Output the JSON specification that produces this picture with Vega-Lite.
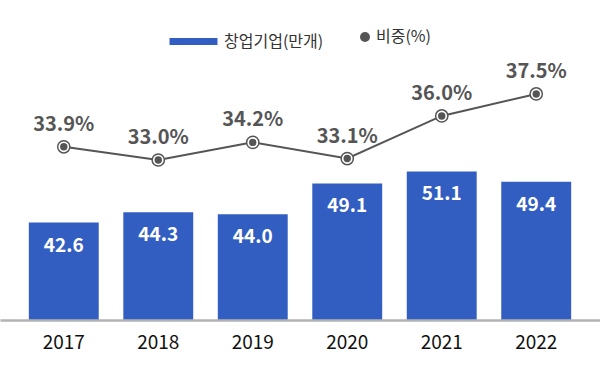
{
  "$schema": "https://vega.github.io/schema/vega-lite/v6.json",
  "width": 600,
  "height": 320,
  "autosize": "none",
  "padding": {"top": 0, "left": 0, "right": 0, "bottom": 60},
  "background": "white",
  "config": {
    "view": {"stroke": null},
    "font": "Noto Sans CJK KR"
  },
  "data": {
    "values": [
      {"year": "2017", "count": 42.6, "pct": 33.9, "pctLabel": "33.9%", "s1": "창업기업(만개)", "s2": "비중(%)"},
      {"year": "2018", "count": 44.3, "pct": 33.0, "pctLabel": "33.0%", "s1": "창업기업(만개)", "s2": "비중(%)"},
      {"year": "2019", "count": 44.0, "pct": 34.2, "pctLabel": "34.2%", "s1": "창업기업(만개)", "s2": "비중(%)"},
      {"year": "2020", "count": 49.1, "pct": 33.1, "pctLabel": "33.1%", "s1": "창업기업(만개)", "s2": "비중(%)"},
      {"year": "2021", "count": 51.1, "pct": 36.0, "pctLabel": "36.0%", "s1": "창업기업(만개)", "s2": "비중(%)"},
      {"year": "2022", "count": 49.4, "pct": 37.5, "pctLabel": "37.5%", "s1": "창업기업(만개)", "s2": "비중(%)"}
    ]
  },
  "encoding": {
    "x": {
      "field": "year", "type": "ordinal",
      "scale": {"paddingInner": 0.26, "paddingOuter": 0.305},
      "axis": {
        "title": null, "labelAngle": 0, "ticks": false,
        "domainColor": "#b3b3b3", "domainWidth": 2.5,
        "labelFontSize": 19, "labelColor": "#111", "labelPadding": 13,
        "labelFont": "Noto Sans CJK KR", "zindex": 1
      }
    }
  },
  "layer": [
    {
      "layer": [
        {
          "mark": {"type": "bar", "color": "#325EC2", "clip": true},
          "encoding": {
            "y": {"field": "count", "type": "quantitative", "scale": {"domain": [26.4, 79.6], "zero": false, "nice": false}, "axis": null},
            "color": {
              "field": "s1", "type": "nominal",
              "scale": {"range": ["#325EC2"]},
              "legend": {
                "title": null, "orient": "none", "legendX": 166, "legendY": 14,
                "symbolType": "stroke", "symbolSize": 2300, "symbolStrokeWidth": 7,
                "symbolStrokeColor": "#325EC2",
                "labelFontSize": 16, "labelColor": "#333", "labelFont": "Noto Sans CJK KR", "labelOffset": 3
              }
            }
          }
        },
        {
          "mark": {"type": "text", "color": "white", "fontSize": 19, "fontWeight": "bold", "baseline": "middle", "dy": 23, "font": "Noto Sans CJK KR"},
          "encoding": {
            "y": {"field": "count", "type": "quantitative", "scale": {"domain": [26.4, 79.6], "zero": false, "nice": false}, "axis": null},
            "text": {"field": "count", "type": "quantitative", "format": ".1f"}
          }
        }
      ]
    },
    {
      "layer": [
        {
          "mark": {"type": "line", "color": "#555", "strokeWidth": 2},
          "encoding": {
            "y": {"field": "pct", "type": "quantitative", "scale": {"domain": [22.1, 43.9], "zero": false, "nice": false}, "axis": null}
          }
        },
        {
          "mark": {"type": "point", "filled": true, "fill": "white", "stroke": "#555", "strokeWidth": 1.5, "size": 150, "opacity": 1},
          "encoding": {
            "y": {"field": "pct", "type": "quantitative", "scale": {"domain": [22.1, 43.9], "zero": false, "nice": false}, "axis": null}
          }
        },
        {
          "mark": {"type": "point", "filled": true, "fill": "#555", "size": 55, "opacity": 1},
          "encoding": {
            "y": {"field": "pct", "type": "quantitative", "scale": {"domain": [22.1, 43.9], "zero": false, "nice": false}, "axis": null},
            "shape": {
              "field": "s2", "type": "nominal",
              "scale": {"range": ["circle"]},
              "legend": {
                "title": null, "orient": "none", "legendX": 357, "legendY": 29,
                "symbolSize": 100, "symbolFillColor": "#555", "symbolStrokeColor": "#aaa", "symbolStrokeWidth": 2,
                "labelFontSize": 16, "labelColor": "#333", "labelFont": "Noto Sans CJK KR", "labelOffset": 3
              }
            }
          }
        },
        {
          "mark": {"type": "text", "color": "#555", "fontSize": 20, "fontWeight": "bold", "baseline": "middle", "dy": -22, "font": "Noto Sans CJK KR"},
          "encoding": {
            "y": {"field": "pct", "type": "quantitative", "scale": {"domain": [22.1, 43.9], "zero": false, "nice": false}, "axis": null},
            "text": {"field": "pctLabel", "type": "nominal"}
          }
        }
      ]
    }
  ],
  "resolve": {"scale": {"y": "independent"}}
}
